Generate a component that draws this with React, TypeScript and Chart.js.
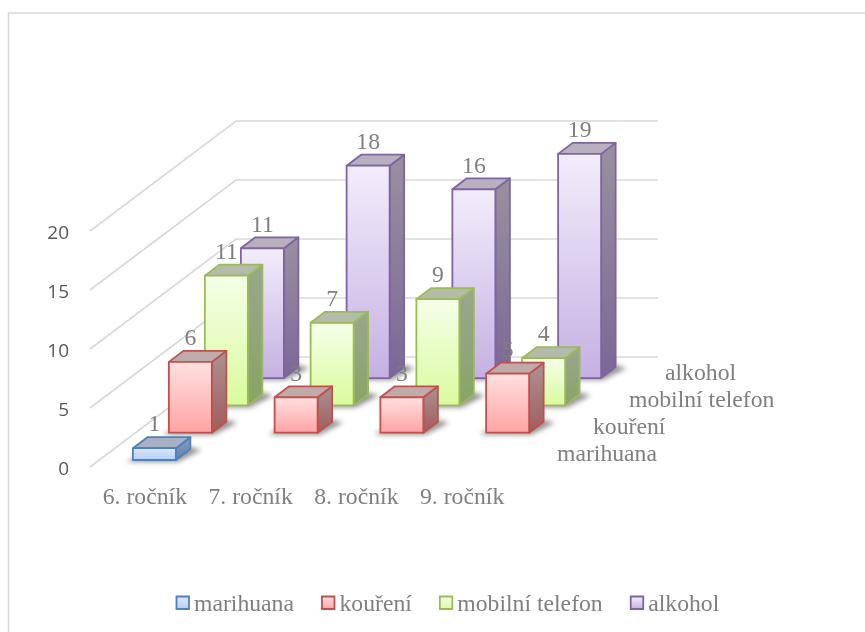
import React, { useEffect, useRef } from "react";
import { Chart, registerables } from "chart.js";

Chart.register(...registerables);

const categories = ["6. ročník", "7. ročník", "8. ročník", "9. ročník"];
const seriesNames = ["marihuana", "kouření", "mobilní telefon", "alkohol"];
const marihuana = [1, null, null, null];
const koureni = [6, 3, 3, 5];
const mobil = [11, 7, 9, 4];
const alkohol = [11, 18, 16, 19];
const yTicks = [0, 5, 10, 15, 20];

const strokeColors = ["#4F81BD", "#C0504D", "#9BBB59", "#8064A2"];
const faceTop = ["#DCE8FC", "#FFE0E0", "#F5FFE8", "#F2EDFB"];
const faceBottom = ["#B6CEF8", "#FFA4A4", "#DAFB9E", "#C5B1E3"];
const capColors = ["#A6B2C4", "#C0ABAB", "#B3BBA9", "#B9B0BF"];
const sideTop = ["#8C9DB8", "#AB9292", "#9AA68E", "#98919F"];
const sideBottom = ["#5F80AC", "#A35C5C", "#88A566", "#7B6798"];

const SERIF = '"Liberation Serif", serif';
const TEXT = "#7F7F7F";
const GRID = "#D9D9D9";
const DEPTH_X = 36;
const DEPTH_Y = 27.3;
const SIDE_X = 14.5;
const SIDE_Y = 11;
const FRONT_SHIFT_X = 9.5;
const FRONT_SHIFT_Y = 7;

const threeD = {
  id: "threeD",
  beforeDraw(chart: any) {
    const { ctx, scales } = chart;
    ctx.save();
    ctx.fillStyle = "#fff";
    ctx.fillRect(0, 0, chart.width, chart.height);
    // frame
    ctx.strokeStyle = GRID;
    ctx.lineWidth = 1.6;
    ctx.beginPath();
    ctx.moveTo(8.5, chart.height);
    ctx.lineTo(8.5, 13);
    ctx.lineTo(chart.width, 13);
    ctx.stroke();
    // gridlines on floor-side wall and back wall
    ctx.lineWidth = 1.6;
    for (const t of yTicks) {
      const y = scales.y.getPixelForValue(t);
      ctx.beginPath();
      ctx.moveTo(90, y);
      ctx.lineTo(236, y - 110);
      ctx.lineTo(658, y - 110);
      ctx.stroke();
    }
    ctx.restore();
  },
  beforeDatasetDraw(chart: any, args: any) {
    const { ctx, scales } = chart;
    const d = args.index;
    const meta = args.meta;
    const ds = chart.data.datasets[d];
    const base = scales.y.getPixelForValue(0) - FRONT_SHIFT_Y - d * DEPTH_Y;
    meta.data.forEach((el: any, j: number) => {
      const v = ds.data[j];
      if (v == null) return;
      const w = el.width;
      const left = el.x - w / 2 + FRONT_SHIFT_X + d * DEPTH_X;
      const right = left + w;
      const top = scales.y.getPixelForValue(v) - FRONT_SHIFT_Y - d * DEPTH_Y;

      ctx.save();
      // data label sits behind its own bar
      ctx.fillStyle = TEXT;
      ctx.font = `23.7px ${SERIF}`;
      ctx.textAlign = "center";
      ctx.textBaseline = "middle";
      ctx.fillText(String(v), left + w / 2, top - 23);

      // floor shadow
      ctx.save();
      ctx.filter = "blur(2.5px)";
      ctx.fillStyle = "rgba(60,60,60,0.55)";
      ctx.beginPath();
      ctx.moveTo(left - 6, base + 2);
      ctx.lineTo(right + 2, base + 2);
      ctx.lineTo(right + SIDE_X + 11, base - SIDE_Y + 1);
      ctx.lineTo(right + SIDE_X, base - SIDE_Y - 2);
      ctx.lineTo(left, base - 2);
      ctx.closePath();
      ctx.fill();
      ctx.restore();

      ctx.lineWidth = 1.8;
      ctx.lineJoin = "round";
      ctx.strokeStyle = strokeColors[d];

      // side face
      const sg = ctx.createLinearGradient(0, top - SIDE_Y, 0, base);
      sg.addColorStop(0, sideTop[d]);
      sg.addColorStop(1, sideBottom[d]);
      ctx.fillStyle = sg;
      ctx.beginPath();
      ctx.moveTo(right, top);
      ctx.lineTo(right + SIDE_X, top - SIDE_Y);
      ctx.lineTo(right + SIDE_X, base - SIDE_Y);
      ctx.lineTo(right, base);
      ctx.closePath();
      ctx.fill();
      ctx.stroke();

      // top cap
      ctx.fillStyle = capColors[d];
      ctx.beginPath();
      ctx.moveTo(left, top);
      ctx.lineTo(left + SIDE_X, top - SIDE_Y);
      ctx.lineTo(right + SIDE_X, top - SIDE_Y);
      ctx.lineTo(right, top);
      ctx.closePath();
      ctx.fill();
      ctx.stroke();

      // front face
      const fg = ctx.createLinearGradient(0, top, 0, base);
      fg.addColorStop(0, faceTop[d]);
      fg.addColorStop(1, faceBottom[d]);
      ctx.fillStyle = fg;
      ctx.beginPath();
      ctx.rect(left, top, w, base - top);
      ctx.fill();
      ctx.stroke();
      ctx.restore();
    });
    return false;
  },
  afterDraw(chart: any) {
    const { ctx } = chart;
    ctx.save();
    ctx.font = `23.7px ${SERIF}`;
    ctx.textBaseline = "middle";
    ctx.textAlign = "left";
    // depth axis labels
    ctx.fillStyle = TEXT;
    seriesNames.forEach((name, d) => {
      ctx.fillText(name, 557 + d * DEPTH_X, 455 - d * 27);
    });
    // legend
    let x = 176.5;
    const y = 603;
    seriesNames.forEach((name, d) => {
      const g = ctx.createLinearGradient(0, y - 6, 0, y + 6);
      g.addColorStop(0, faceTop[d]);
      g.addColorStop(1, faceBottom[d]);
      ctx.fillStyle = g;
      ctx.strokeStyle = strokeColors[d];
      ctx.lineWidth = 1.8;
      ctx.beginPath();
      ctx.rect(x, y - 6.5, 12.5, 12.5);
      ctx.fill();
      ctx.stroke();
      ctx.fillStyle = TEXT;
      ctx.fillText(name, x + 17.5, y + 2);
      x += 17.5 + ctx.measureText(name).width + 28;
    });
    ctx.restore();
  },
};

export default function App() {
  const ref = useRef<HTMLCanvasElement>(null);
  useEffect(() => {
    const series = [marihuana, koureni, mobil, alkohol];
    const chart = new Chart(ref.current as HTMLCanvasElement, {
      type: "bar",
      data: {
        labels: categories,
        datasets: series.map((data, i) => ({
          label: seriesNames[i],
          data,
          backgroundColor: faceBottom[i],
          borderColor: strokeColors[i],
          grouped: false,
          barThickness: 43,
        })),
      },
      options: {
        responsive: false,
        animation: false,
        layout: { padding: { left: 0, top: 231, right: 350, bottom: 0 } },
        plugins: { legend: { display: false }, tooltip: { enabled: false } },
        scales: {
          x: {
            grid: { display: false },
            border: { display: false },
            afterFit: (s: any) => {
              s.height = 165;
            },
            ticks: {
              padding: 9,
              maxRotation: 0,
              autoSkip: false,
              color: TEXT,
              font: { family: SERIF, size: 23.7 },
            },
          },
          y: {
            min: 0,
            max: 20,
            grid: { display: false },
            border: { display: false },
            afterFit: (s: any) => {
              s.width = 92;
            },
            ticks: {
              stepSize: 5,
              padding: 15,
              labelOffset: 3,
              color: "#595959",
              font: { family: '"Open Sans", sans-serif', size: 19 },
            },
          },
        },
      } as any,
      plugins: [threeD],
    });
    return () => chart.destroy();
  }, []);
  return (
    <canvas
      ref={ref}
      width={865}
      height={632}
      style={{ position: "absolute", left: 0, top: 0, display: "block" }}
    />
  );
}
